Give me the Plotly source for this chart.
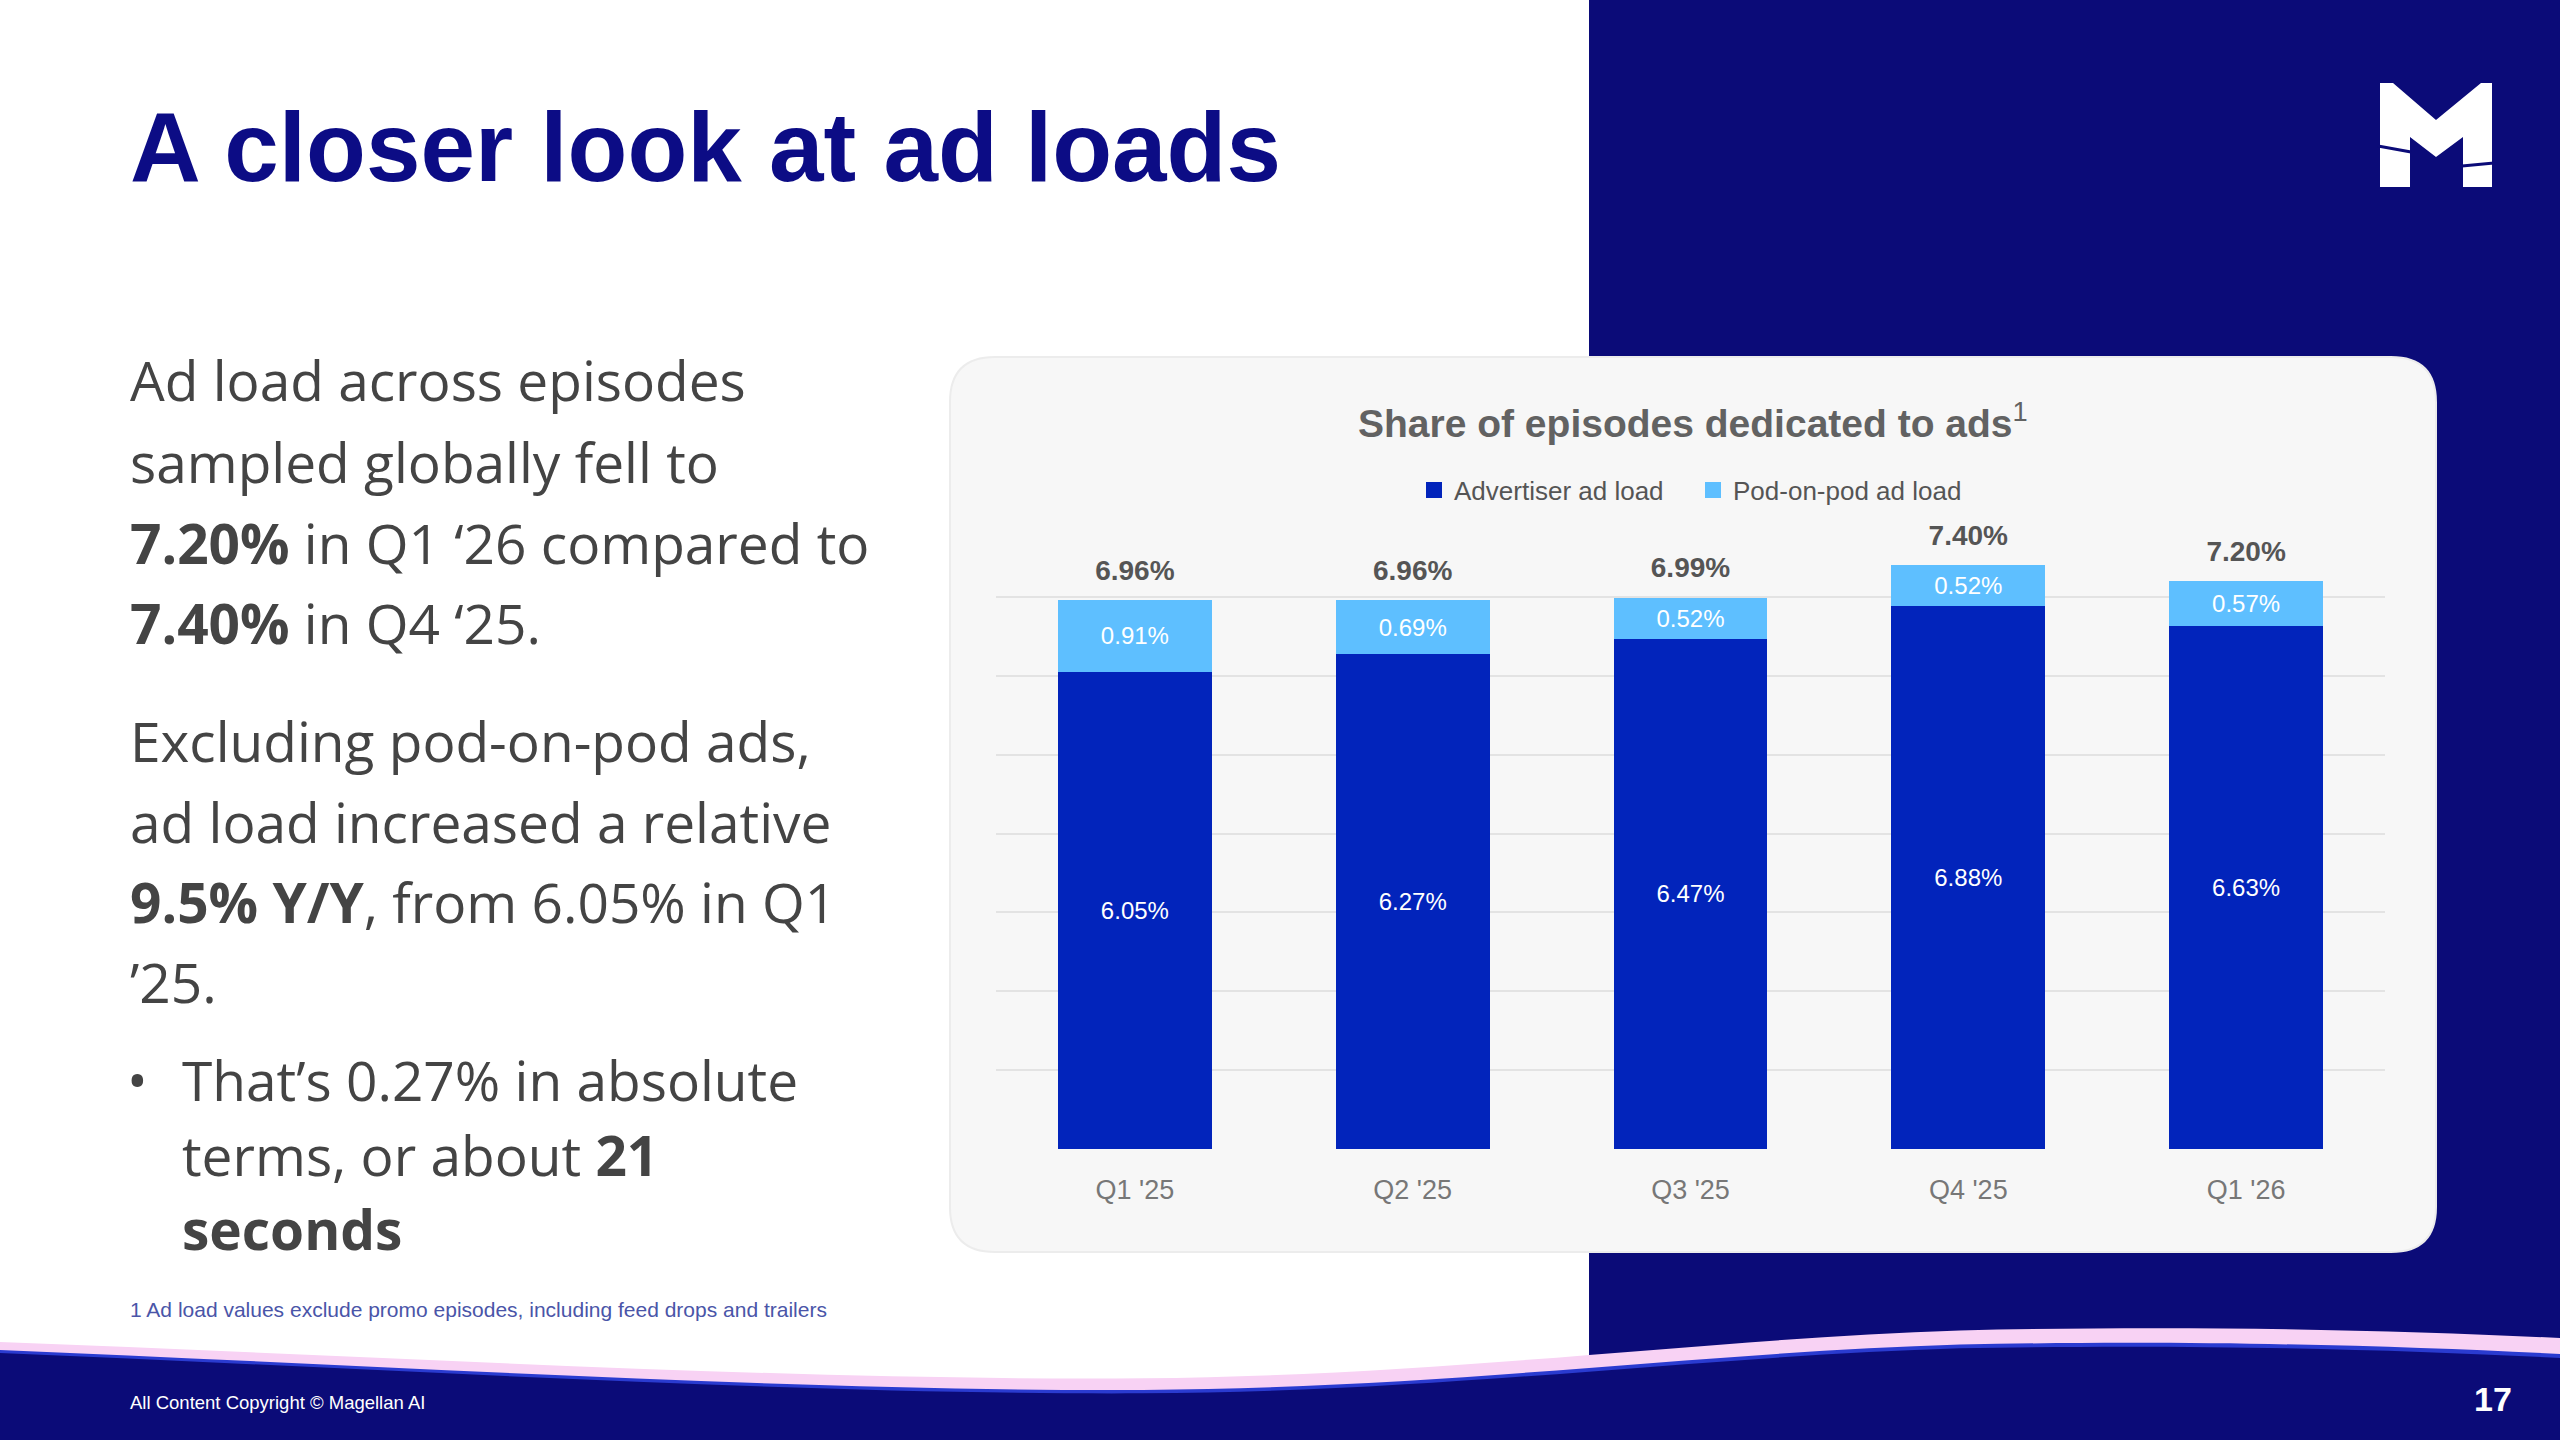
import plotly.graph_objects as go

W, H = 2560, 1440

# data
quarters = ["Q1 '25", "Q2 '25", "Q3 '25", "Q4 '25", "Q1 '26"]
advertiser_load = [6.05, 6.27, 6.47, 6.88, 6.63]
pod_on_pod_load = [0.91, 0.69, 0.52, 0.52, 0.57]
total_load = [6.96, 6.96, 6.99, 7.40, 7.20]

NAVY = "#0b0b78"
DARK_BLUE = "#0224bb"
LIGHT_BLUE = "#5ebfff"
BODY = "#444444"
FONT = "Open Sans"
TITLE_FONT = "Liberation Sans"


def px(x, y):
    # pixel (top-left origin) -> paper coords
    return f"{x / W:.5f},{1 - y / H:.5f}"


def path(points):
    return "M " + " L ".join(px(x, y) for x, y in points) + " Z"


fig = go.Figure()

fig.add_trace(go.Bar(
    x=quarters, y=advertiser_load, name="Advertiser ad load", showlegend=False,
    marker=dict(color=DARK_BLUE, line=dict(width=0)),
    text=[f"{v:.2f}%" for v in advertiser_load],
    textposition="inside", insidetextanchor="middle",
    textfont=dict(color="white", size=24, family=TITLE_FONT),
))
fig.add_trace(go.Bar(
    x=quarters, y=pod_on_pod_load, name="Pod-on-pod ad load", showlegend=False,
    marker=dict(color=LIGHT_BLUE, line=dict(width=0)),
    text=[f"{v:.2f}%" for v in pod_on_pod_load],
    textposition="inside", insidetextanchor="middle",
    textfont=dict(color="white", size=24, family=TITLE_FONT),
))
fig.add_trace(go.Scatter(
    x=quarters, y=total_load, mode="markers+text", showlegend=False,
    marker=dict(size=20, color="rgba(0,0,0,0)"),
    text=[f"{v:.2f}%" for v in total_load], textposition="top center",
    textfont=dict(color="#555555", size=28, family=TITLE_FONT, weight="bold"),
    cliponaxis=False, hoverinfo="skip",
))
# legend entries with larger square swatches
for name, col in [("Advertiser ad load", DARK_BLUE), ("Pod-on-pod ad load", LIGHT_BLUE)]:
    fig.add_trace(go.Scatter(x=[None], y=[None], mode="markers", name=name,
                             marker=dict(symbol="square", size=16, color=col)))

shapes = []
# dark panel on the right
shapes.append(dict(type="rect", xref="paper", yref="paper", layer="below",
                   x0=1589 / W, x1=1, y0=1 - 1365 / H, y1=1,
                   fillcolor=NAVY, line=dict(width=0)))

# rounded chart card
cx0, cx1, cy0, cy1, r = 950, 2436, 357, 1252, 45
card = (f"M {px(cx0 + r, cy0)} L {px(cx1 - r, cy0)} Q {px(cx1, cy0)} {px(cx1, cy0 + r)} "
        f"L {px(cx1, cy1 - r)} Q {px(cx1, cy1)} {px(cx1 - r, cy1)} "
        f"L {px(cx0 + r, cy1)} Q {px(cx0, cy1)} {px(cx0, cy1 - r)} "
        f"L {px(cx0, cy0 + r)} Q {px(cx0, cy0)} {px(cx0 + r, cy0)} Z")
shapes.append(dict(type="path", xref="paper", yref="paper", layer="below", path=card,
                   fillcolor="#f7f7f7", line=dict(color="#ececec", width=2)))


# bottom wave: pink highlight, thin blue, navy band
def wave(dy, dy_right=0):
    pts = [(0, 1344), (400, 1360), (800, 1385), (1143, 1383), (1450, 1381), (1700, 1345),
           (1960, 1337), (2200, 1332), (2400, 1338), (2560, 1346)]
    p = [(x, y + dy + dy_right * x / 2560) for x, y in pts]
    s = f"M {px(*p[0])} C {px(*p[1])} {px(*p[2])} {px(*p[3])} C {px(*p[4])} {px(*p[5])} {px(*p[6])} "
    s += f"C {px(*p[7])} {px(*p[8])} {px(*p[9])} L {px(2560, 1440)} L {px(0, 1440)} Z"
    return s


for dy, dr, col in [(-2, -6, "#f8d2f4"), (6, 2, "#2a3bd0"), (9, 3, NAVY)]:
    shapes.append(dict(type="path", xref="paper", yref="paper", layer="below",
                       path=wave(dy, dr), fillcolor=col, line=dict(width=0)))

# logo
logo = [(2380, 83), (2393, 83), (2436, 120), (2481, 83), (2492, 83), (2492, 187), (2463, 187),
        (2463, 137), (2436, 157), (2410, 137), (2410, 187), (2380, 187)]
shapes.append(dict(type="path", xref="paper", yref="paper", path=path(logo),
                   fillcolor="white", line=dict(width=0)))
for (x0, y0, x1, y1) in [(2378, 146, 2411, 152), (2462, 166, 2494, 163)]:
    shapes.append(dict(type="line", xref="paper", yref="paper",
                       x0=x0 / W, y0=1 - y0 / H, x1=x1 / W, y1=1 - y1 / H,
                       line=dict(color=NAVY, width=3)))

annotations = []


def note(x, y, text, size, color=BODY, family=FONT, xanchor="left"):
    annotations.append(dict(xref="paper", yref="paper", x=x / W, y=1 - y / H,
                            text=text, showarrow=False, xanchor=xanchor, yanchor="middle",
                            font=dict(size=size, color=color, family=family)))


note(128, 147, "<b>A closer look at ad loads</b>", 98, color="#0c0c85", family=TITLE_FONT)
note(1693, 421, "<b>Share of episodes dedicated to ads</b><sup>1</sup>", 39,
     color="#626262", family=TITLE_FONT, xanchor="center")

body_lines = [
    (380, 128, "Ad load across episodes"),
    (462, 128, "sampled globally fell to"),
    (542, 128, "<b>7.20%</b> in Q1 ‘26 compared to"),
    (622, 128, "<b>7.40%</b> in Q4 ‘25."),
    (741, 128, "Excluding pod-on-pod ads,"),
    (821, 128, "ad load increased a relative"),
    (901, 128, "<b>9.5% Y/Y</b>, from 6.05% in Q1"),
    (981, 128, "’25."),
    (1079, 180, "That’s 0.27% in absolute"),
    (1154, 180, "terms, or about <b>21</b>"),
    (1228, 180, "<b>seconds</b>"),
]
for y, x, t in body_lines:
    note(x, y, t, 55)
note(125, 1079, "•", 55)

note(128, 1309, "1 Ad load values exclude promo episodes, including feed drops and trailers",
     21, color="#4a55a8", family=TITLE_FONT)
note(128, 1402, "All Content Copyright © Magellan AI", 18.5, color="white", family=TITLE_FONT)
note(2514, 1399, "<b>17</b>", 34, color="white", family=TITLE_FONT, xanchor="right")

fig.update_layout(
    width=W, height=H,
    margin=dict(l=0, r=0, t=0, b=0),
    paper_bgcolor="white", plot_bgcolor="rgba(0,0,0,0)",
    barmode="stack", bargap=0.447,
    showlegend=True,
    legend=dict(orientation="h", x=1693 / W, xanchor="center", y=1 - 490 / H, yanchor="middle",
                bgcolor="rgba(0,0,0,0)", font=dict(size=26, color="#555555", family=TITLE_FONT),
                traceorder="normal", itemwidth=30, entrywidth=234),
    shapes=shapes, annotations=annotations,
    hovermode=False,
)
fig.update_xaxes(domain=[996 / W, 2385 / W], showgrid=False, showline=False, ticks="",
                 tickfont=dict(size=27, color="#777777", family=TITLE_FONT),
                 ticklabelstandoff=22)
fig.update_yaxes(domain=[1 - 1149 / H, 1 - 518 / H], range=[0, 8], dtick=1,
                 showticklabels=False, gridcolor="#e3e3e3", gridwidth=2, zeroline=False)

fig.write_html("out.html", config={"displayModeBar": False},
               post_script="document.body.style.margin='0';")
